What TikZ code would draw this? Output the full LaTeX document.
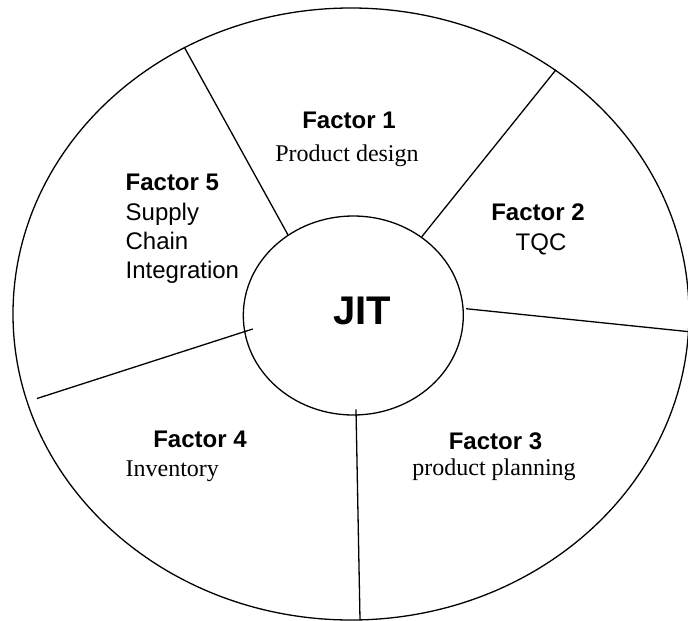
\documentclass[tikz,border=0pt]{standalone}
\usepackage{fontspec}
\setmainfont{Liberation Serif}
\setsansfont{Liberation Sans}
\usetikzlibrary{shapes.geometric}

\begin{document}
\begin{tikzpicture}[x=1pt,y=-1pt,line width=1.3pt,
                    wheel node/.style={ellipse,draw,inner sep=0pt},
                    factor label/.style={font=\sffamily\fontsize{24}{29}\selectfont\bfseries,inner sep=0pt,anchor=base},
                    sans text/.style={font=\sffamily\fontsize{24}{29}\selectfont,inner sep=0pt,anchor=base},
                    serif text/.style={font=\rmfamily\fontsize{24}{29}\selectfont,inner sep=0pt,anchor=base}]
 \useasboundingbox (0,0) rectangle (688,621);

%The wheel and the hub
 \node[wheel node,minimum width=676pt,minimum height=612pt] (Wheel) at (351,314) {};
 \node[wheel node,minimum width=220pt,minimum height=199pt] (JIT) at (353.3,315.5) {};
 \node[font=\sffamily\fontsize{40}{40}\selectfont\bfseries,inner sep=0pt] (JITlabel) at (362,311) {JIT};

%Free ends of the dividers
 \coordinate (Spoke3in) at (466,308.7);
 \coordinate (Spoke4in) at (356,409.3);
 \coordinate (Spoke4out) at (360,619.5);
 \coordinate (Spoke5in) at (252.7,329);
 \coordinate (Spoke5out) at (37,398.5);

%Dividers between the factors
 \draw (JIT.129.7) -- (Wheel.122.1);
 \draw (JIT.49.3) -- (Wheel.50.4);
 \draw (Spoke3in) -- (Wheel.-3.6);
 \draw (Spoke4in) -- (Spoke4out);
 \draw (Spoke5in) -- (Spoke5out);

%Factor labels
 \node[factor label] (Factor1) at (349,128) {Factor 1};
 \node[serif text] (Factor1text) at (347,161.6) {Product design};

 \node[factor label] (Factor2) at (538,220.6) {Factor 2};
 \node[sans text] (Factor2text) at (541,250.7) {TQC};

 \node[factor label] (Factor3) at (495.5,449) {Factor 3};
 \node[serif text] (Factor3text) at (494,475.5) {product planning};

 \node[factor label] (Factor4) at (200,447.5) {Factor 4};
 \node[serif text,anchor=base west] (Factor4text) at (125,476.4) {Inventory};

 \node[factor label,anchor=base west] (Factor5) at (125,190.7) {Factor 5};
 \node[sans text,anchor=base west,align=left] (Factor5text) at (125,278.5) {Supply\\Chain\\Integration};

\end{tikzpicture}
\end{document}
